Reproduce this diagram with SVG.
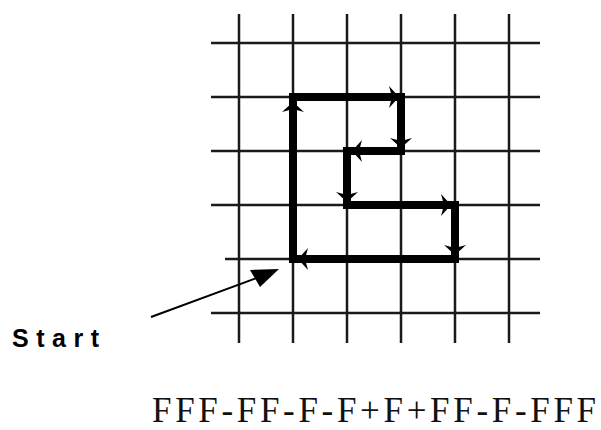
<svg xmlns="http://www.w3.org/2000/svg" width="601" height="430" viewBox="0 0 601 430">
<style>
.grid{stroke:#1a1a1a;stroke-width:2.5;fill:none}
.path{stroke:#000;stroke-width:8;fill:none;stroke-linejoin:miter;stroke-linecap:square}
.ah{fill:#000}
.lbl{font-family:"Liberation Sans",Arial,sans-serif;font-weight:bold;font-size:25px;letter-spacing:7.5px;fill:#000}
.formula{font-family:"Liberation Serif","Times New Roman",serif;font-size:35px;fill:#111}
</style>
<defs>
<path id="ah" d="M0,0 L-10,-11 L-7,0 L-10,11 Z"/>
</defs>
<g id="grid">
<line class="grid" x1="239" y1="14" x2="239" y2="343"/>
<line class="grid" x1="293" y1="14" x2="293" y2="343"/>
<line class="grid" x1="347" y1="14" x2="347" y2="343"/>
<line class="grid" x1="401" y1="14" x2="401" y2="343"/>
<line class="grid" x1="455" y1="14" x2="455" y2="343"/>
<line class="grid" x1="509" y1="14" x2="509" y2="343"/>
<line class="grid" x1="211" y1="43" x2="540" y2="43"/>
<line class="grid" x1="211" y1="97" x2="540" y2="97"/>
<line class="grid" x1="211" y1="151" x2="540" y2="151"/>
<line class="grid" x1="211" y1="205" x2="540" y2="205"/>
<line class="grid" x1="225" y1="259" x2="540" y2="259"/>
<line class="grid" x1="211" y1="313" x2="540" y2="313"/>
</g>
<g id="turtle-path">
<polyline class="path" points="293,259 293,97 401,97 401,151 347,151 347,205 455,205 455,259 293,259"/>
<use href="#ah" class="ah" transform="translate(293,102) rotate(-90)"/>
<use href="#ah" class="ah" transform="translate(399,97)"/>
<use href="#ah" class="ah" transform="translate(401,148) rotate(90)"/>
<use href="#ah" class="ah" transform="translate(352,151) rotate(180)"/>
<use href="#ah" class="ah" transform="translate(347,202) rotate(90)"/>
<use href="#ah" class="ah" transform="translate(451,205)"/>
<use href="#ah" class="ah" transform="translate(455,255) rotate(90)"/>
<use href="#ah" class="ah" transform="translate(298,259) rotate(180)"/>
</g>
<g id="connectors">
<line x1="151" y1="317" x2="262" y2="276" stroke="#000" stroke-width="2"/>
<polygon points="250,270 279,269 260,287" fill="#000"/>
</g>
<g id="start-label">
<text class="lbl" x="12" y="347">Start</text>
</g>
<g id="formula">
<text class="formula" x="152" y="422" textLength="444" lengthAdjust="spacing">FFF-FF-F-F+F+FF-F-FFF</text>
</g>
</svg>
